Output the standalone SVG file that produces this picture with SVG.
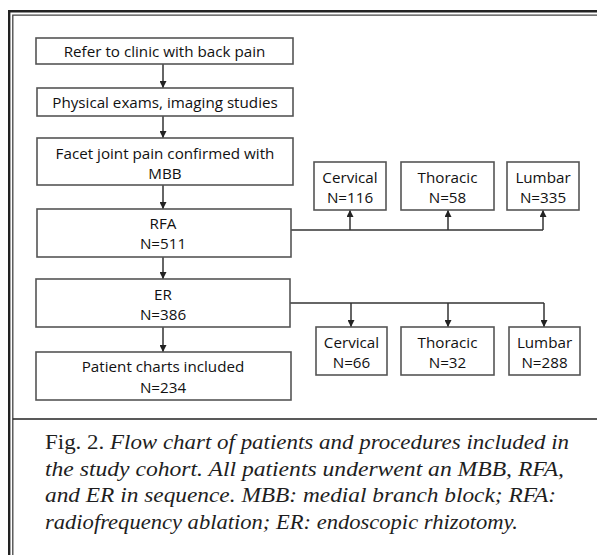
<svg xmlns="http://www.w3.org/2000/svg" width="597" height="555" viewBox="0 0 597 555">
<defs>
<marker id="ah" viewBox="0 0 10 10" refX="10" refY="5" markerWidth="7" markerHeight="7" markerUnits="userSpaceOnUse" orient="auto">
<path d="M0,0 L10,5 L0,10 z" fill="#222"/>
</marker>
<style>
.box{fill:#fff;stroke:#555;stroke-width:1.6}
.t{font-family:"Open Sans","Liberation Sans",sans-serif;font-size:15.2px;fill:#111;text-anchor:middle}
.c{fill:none;stroke:#333;stroke-width:1.5}
.cap{font-family:"Liberation Serif","DejaVu Serif",serif;font-size:20px;fill:#1e1e1e}
</style>
</defs>
<rect width="597" height="555" fill="#fff"/>
<g id="frame" fill="none">
<path d="M9.2,555 V11.2 H597" stroke="#222" stroke-width="2.4"/>
<path d="M12.8,555 V15.2 H597" stroke="#444" stroke-width="1.3"/>
<path d="M12.8,419 H597" stroke="#222" stroke-width="1.5"/>
</g>
<g id="connectors">
<path class="c" d="M163,64 V88" marker-end="url(#ah)"/>
<path class="c" d="M163,116 V138" marker-end="url(#ah)"/>
<path class="c" d="M163,185 V209" marker-end="url(#ah)"/>
<path class="c" d="M163,257 V279" marker-end="url(#ah)"/>
<path class="c" d="M163,327 V352" marker-end="url(#ah)"/>
<path class="c" d="M291,230 H543"/>
<path class="c" d="M350,230 V210" marker-end="url(#ah)"/>
<path class="c" d="M448,230 V210" marker-end="url(#ah)"/>
<path class="c" d="M543,230 V210" marker-end="url(#ah)"/>
<path class="c" d="M290,303 H544"/>
<path class="c" d="M351,303 V327" marker-end="url(#ah)"/>
<path class="c" d="M448,303 V327" marker-end="url(#ah)"/>
<path class="c" d="M544,303 V327" marker-end="url(#ah)"/>
</g>
<g id="refer"><rect class="box" x="36" y="38" width="257" height="26"/><text class="t" x="164.5" y="56.5">Refer to clinic with back pain</text></g>
<g id="exams"><rect class="box" x="37" y="88" width="256" height="28"/><text class="t" x="165" y="107.5">Physical exams, imaging studies</text></g>
<g id="facet"><rect class="box" x="37" y="138" width="256" height="47"/><text class="t" x="165" y="158.5">Facet joint pain confirmed with</text><text class="t" x="165" y="178.5">MBB</text></g>
<g id="rfa"><rect class="box" x="37" y="209" width="254" height="48"/><text class="t" x="163" y="228.5">RFA</text><text class="t" x="163" y="248.5">N=511</text></g>
<g id="er"><rect class="box" x="36" y="279" width="254" height="48"/><text class="t" x="163" y="299.5">ER</text><text class="t" x="163" y="319.5">N=386</text></g>
<g id="charts"><rect class="box" x="36" y="352" width="255" height="48"/><text class="t" x="163" y="371.5">Patient charts included</text><text class="t" x="163" y="392.5">N=234</text></g>
<g id="rfa-cervical"><rect class="box" x="314" y="162" width="72" height="48"/><text class="t" x="350" y="182.5">Cervical</text><text class="t" x="350" y="202.5">N=116</text></g>
<g id="rfa-thoracic"><rect class="box" x="401" y="162" width="93" height="48"/><text class="t" x="447.5" y="182.5">Thoracic</text><text class="t" x="447.5" y="202.5">N=58</text></g>
<g id="rfa-lumbar"><rect class="box" x="507" y="162" width="72" height="48"/><text class="t" x="543" y="182.5">Lumbar</text><text class="t" x="543" y="202.5">N=335</text></g>
<g id="er-cervical"><rect class="box" x="316" y="327" width="71" height="48"/><text class="t" x="351.5" y="347.5">Cervical</text><text class="t" x="351.5" y="367.5">N=66</text></g>
<g id="er-thoracic"><rect class="box" x="401" y="327" width="93" height="48"/><text class="t" x="447.5" y="347.5">Thoracic</text><text class="t" x="447.5" y="367.5">N=32</text></g>
<g id="er-lumbar"><rect class="box" x="509" y="327" width="71" height="48"/><text class="t" x="544.5" y="347.5">Lumbar</text><text class="t" x="544.5" y="367.5">N=288</text></g>
<g id="caption">
<text class="cap" x="45" y="449" textLength="524" lengthAdjust="spacingAndGlyphs">Fig. 2. <tspan font-style="italic">Flow chart of  patients and procedures included in</tspan></text>
<text class="cap" x="45" y="475.5" font-style="italic" textLength="519" lengthAdjust="spacingAndGlyphs">the study cohort. All patients underwent an MBB, RFA,</text>
<text class="cap" x="45" y="502" font-style="italic" textLength="511" lengthAdjust="spacingAndGlyphs">and ER in sequence. MBB: medial branch block; RFA:</text>
<text class="cap" x="45" y="528.5" font-style="italic" textLength="473" lengthAdjust="spacingAndGlyphs">radiofrequency ablation; ER: endoscopic rhizotomy.</text>
</g>
</svg>
